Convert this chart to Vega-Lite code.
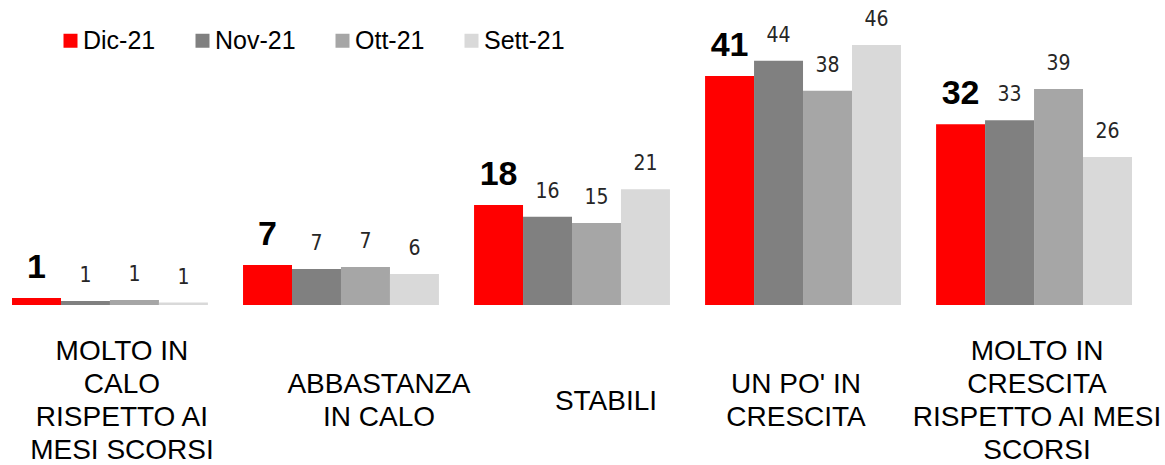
{
  "$schema": "https://vega.github.io/schema/vega-lite/v6.json",
  "width": 1144,
  "height": 260,
  "autosize": {"type": "none"},
  "padding": {"left": 0, "top": 45, "right": 21, "bottom": 160},
  "config": {"view": {"stroke": null}},
  "data": {
    "values": [
      {"cat": "MOLTO IN|CALO|RISPETTO AI|MESI SCORSI", "series": "Dic-21", "value": 1.24, "label": "1"},
      {"cat": "MOLTO IN|CALO|RISPETTO AI|MESI SCORSI", "series": "Nov-21", "value": 0.71, "label": "1"},
      {"cat": "MOLTO IN|CALO|RISPETTO AI|MESI SCORSI", "series": "Ott-21", "value": 0.88, "label": "1"},
      {"cat": "MOLTO IN|CALO|RISPETTO AI|MESI SCORSI", "series": "Sett-21", "value": 0.44, "label": "1"},
      {"cat": "ABBASTANZA|IN CALO", "series": "Dic-21", "value": 7.08, "label": "7"},
      {"cat": "ABBASTANZA|IN CALO", "series": "Nov-21", "value": 6.37, "label": "7"},
      {"cat": "ABBASTANZA|IN CALO", "series": "Ott-21", "value": 6.72, "label": "7"},
      {"cat": "ABBASTANZA|IN CALO", "series": "Sett-21", "value": 5.48, "label": "6"},
      {"cat": "STABILI", "series": "Dic-21", "value": 17.7, "label": "18"},
      {"cat": "STABILI", "series": "Nov-21", "value": 15.6, "label": "16"},
      {"cat": "STABILI", "series": "Ott-21", "value": 14.5, "label": "15"},
      {"cat": "STABILI", "series": "Sett-21", "value": 20.5, "label": "21"},
      {"cat": "UN PO' IN|CRESCITA", "series": "Dic-21", "value": 40.5, "label": "41"},
      {"cat": "UN PO' IN|CRESCITA", "series": "Nov-21", "value": 43.2, "label": "44"},
      {"cat": "UN PO' IN|CRESCITA", "series": "Ott-21", "value": 37.9, "label": "38"},
      {"cat": "UN PO' IN|CRESCITA", "series": "Sett-21", "value": 46, "label": "46"},
      {"cat": "MOLTO IN|CRESCITA|RISPETTO AI MESI|SCORSI", "series": "Dic-21", "value": 32.0, "label": "32"},
      {"cat": "MOLTO IN|CRESCITA|RISPETTO AI MESI|SCORSI", "series": "Nov-21", "value": 32.7, "label": "33"},
      {"cat": "MOLTO IN|CRESCITA|RISPETTO AI MESI|SCORSI", "series": "Ott-21", "value": 38.2, "label": "39"},
      {"cat": "MOLTO IN|CRESCITA|RISPETTO AI MESI|SCORSI", "series": "Sett-21", "value": 26.2, "label": "26"}
    ]
  },
  "encoding": {
    "x": {
      "field": "cat",
      "type": "nominal",
      "sort": null,
      "scale": {"paddingInner": 0.152, "paddingOuter": 0.052},
      "axis": {
        "title": null,
        "ticks": false,
        "domain": false,
        "labelAngle": 0,
        "labelFont": "Liberation Sans",
        "labelFontSize": 28,
        "labelColor": "black",
        "labelLineHeight": 33,
        "labelBaseline": "middle",
        "labelPadding": {
          "condition": [
            {"test": "datum.value === 'STABILI'", "value": 96},
            {"test": "datum.value === 'ABBASTANZA|IN CALO' || datum.value === \"UN PO' IN|CRESCITA\"", "value": 79.5}
          ],
          "value": 46.5
        },
        "labelOffset": {
          "condition": [
            {"test": "datum.value === 'MOLTO IN|CALO|RISPETTO AI|MESI SCORSI'", "value": 12},
            {"test": "datum.value === 'ABBASTANZA|IN CALO'", "value": 38},
            {"test": "datum.value === 'STABILI'", "value": 34},
            {"test": "datum.value === \"UN PO' IN|CRESCITA\"", "value": -7}
          ],
          "value": 3
        },
        "labelLimit": 600,
        "labelOverlap": false,
        "labelExpr": "split(datum.label, '|')"
      }
    },
    "xOffset": {
      "field": "series",
      "type": "nominal",
      "sort": ["Dic-21", "Nov-21", "Ott-21", "Sett-21"],
      "scale": {"paddingInner": 0, "paddingOuter": 0}
    },
    "y": {
      "field": "value",
      "type": "quantitative",
      "scale": {"domain": [0, 46], "nice": false},
      "axis": null
    }
  },
  "layer": [
    {
      "mark": {"type": "bar"},
      "encoding": {
        "color": {
          "field": "series",
          "type": "nominal",
          "sort": ["Dic-21", "Nov-21", "Ott-21", "Sett-21"],
          "scale": {
            "domain": ["Dic-21", "Nov-21", "Ott-21", "Sett-21"],
            "range": ["#FF0000", "#808080", "#A6A6A6", "#D9D9D9"]
          },
          "legend": {
            "title": null,
            "orient": "none",
            "legendX": 58,
            "legendY": -17,
            "direction": "horizontal",
            "symbolType": "square",
            "symbolSize": 196,
            "symbolStrokeWidth": 0,
            "labelFont": "Liberation Sans",
            "labelFontSize": 25,
            "labelColor": "black",
            "labelOffset": 0,
            "columnPadding": 34,
            "padding": 0
          }
        }
      }
    },
    {
      "transform": [{"filter": "datum.series === 'Dic-21'"}],
      "mark": {
        "type": "text",
        "baseline": "alphabetic",
        "dy": -20,
        "font": "Liberation Sans",
        "fontWeight": "bold",
        "fontSize": 34,
        "color": "black"
      },
      "encoding": {"text": {"field": "label"}}
    },
    {
      "transform": [{"filter": "datum.series !== 'Dic-21'"}],
      "mark": {
        "type": "text",
        "baseline": "alphabetic",
        "dy": -19,
        "font": "DejaVu Sans Condensed, DejaVu Sans",
        "fontSize": 21,
        "color": "#262626"
      },
      "encoding": {"text": {"field": "label"}}
    }
  ]
}
